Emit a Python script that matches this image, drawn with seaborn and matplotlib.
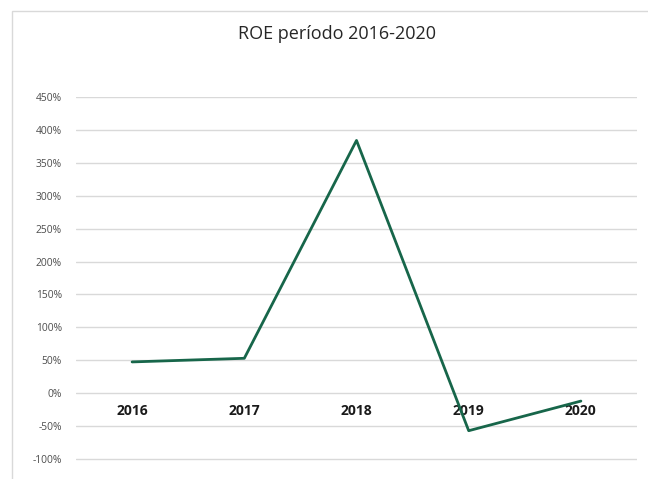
import matplotlib
matplotlib.use("Agg")
import matplotlib.pyplot as plt
import seaborn as sns
import pandas as pd
from matplotlib.patches import Rectangle
from matplotlib.ticker import FuncFormatter

years = ["2016", "2017", "2018", "2019", "2020"]
roe = [0.475, 0.53, 3.84, -0.57, -0.12]
title = "ROE período 2016-2020"

sns.set_theme(style="white")
plt.rcParams["font.family"] = ["Open Sans", "DejaVu Sans"]

df = pd.DataFrame({"pos": range(len(years)), "year": years, "roe": roe})

fig = plt.figure(figsize=(6.48, 4.79), dpi=100)
ax = fig.add_axes([76/648, 1-462.3/479, (637-76)/648, (462.3-97)/479])

sns.lineplot(data=df, x="pos", y="roe", ax=ax, color="#17664a", linewidth=2.0)

ax.set_xlim(-0.5, len(years)-0.5)
ax.set_ylim(-1.05, 4.5)
ax.set_yticks([i*0.5 for i in range(-2, 10)])
ax.yaxis.set_major_formatter(FuncFormatter(lambda v, p: f"{v*100:.0f}%"))
ax.grid(axis="y", color="#d9d9d9", linewidth=1.0)
ax.set_axisbelow(True)
for s in ["top", "right", "left"]:
    ax.spines[s].set_visible(False)
ax.spines["bottom"].set_position(("data", 0))
ax.spines["bottom"].set_visible(False)
ax.set_xticks(df["pos"])
ax.set_xticklabels(years, fontsize=10, fontweight="bold", color="#1a1a1a")
ax.tick_params(axis="x", length=0, pad=8)
ax.tick_params(axis="y", length=0, labelsize=7.4, colors="#4d4d4d", pad=10)
ax.set_xlabel("")
ax.set_ylabel("")

fig.text(337/648, 1-34/479, title, ha="center", va="center", fontsize=13, color="#262626")
fig.patches.append(Rectangle((12/648, -0.1), 1.0, 1-11/479+0.1, transform=fig.transFigure,
                             fill=False, edgecolor="#d9d9d9", linewidth=1.0))

fig.savefig("out.png", dpi=100)
